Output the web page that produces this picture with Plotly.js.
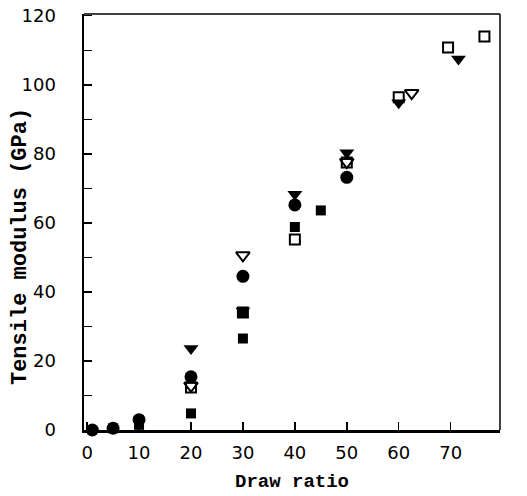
<!DOCTYPE html>
<html><head><meta charset="utf-8">
<script src="https://cdn.plot.ly/plotly-3.0.1.min.js"></script>
<style>body{margin:0;background:#fff}#c{width:527px;height:496px}</style>
</head><body><div id="c"></div>
<script>
// Draw ratio (x) vs tensile modulus in GPa (y), five sample series
const circleFilledX = [1, 5, 10, 20, 30, 40, 50];
const circleFilledY = [0, 0.5, 3, 15.4, 44.5, 65.2, 73.2];
const squareFilledX = [5, 10, 20, 30, 30, 40, 45];
const squareFilledY = [0.5, 1.5, 4.8, 26.5, 34, 58.8, 63.6];
const squareOpenX = [20, 30, 40, 50, 60, 69.5, 76.5];
const squareOpenY = [12.3, 34, 55.2, 77.5, 96.4, 110.8, 114];
const triFilledX = [20, 30, 40, 50, 60, 71.5];
const triFilledY = [23.6, 34.5, 68.3, 80.3, 94.8, 107.5];
const triOpenX = [20, 30, 50, 62.5];
const triOpenY = [12.8, 50.6, 77.6, 97.6];
const xTicks = [0, 10, 20, 30, 40, 50, 60, 70, 80];
const yTicks = [0, 20, 40, 60, 80, 100, 120];
const xTitle = 'Draw ratio';
const yTitle = 'Tensile modulus (GPa)';

const common = {type: 'scatter', mode: 'markers', cliponaxis: false, showlegend: false};
const data = [
  Object.assign({}, common, {x: squareOpenX, y: squareOpenY,
    marker: {symbol: 'square-open', size: 10, color: '#000', line: {width: 2, color: '#000'}}}),
  Object.assign({}, common, {x: triOpenX, y: triOpenY,
    marker: {symbol: 'triangle-down-open', size: 12, color: '#000', line: {width: 2, color: '#000'}}}),
  Object.assign({}, common, {x: squareFilledX, y: squareFilledY,
    marker: {symbol: 'square', size: 10, color: '#000'}}),
  Object.assign({}, common, {x: triFilledX, y: triFilledY,
    marker: {symbol: 'triangle-down', size: 13, color: '#000'}}),
  Object.assign({}, common, {x: circleFilledX, y: circleFilledY,
    marker: {symbol: 'circle', size: 13, color: '#000'}})
];

const tickFont = {family: 'DejaVu Sans, Verdana, sans-serif', size: 18, color: '#000'};
const titleFont = {family: 'Liberation Mono, Courier New, monospace', size: 19, color: '#000', weight: 'bold'};
const yTitleFont = {family: 'Liberation Mono, Courier New, monospace', size: 22, color: '#000', weight: 'bold'};

const layout = {
  width: 527, height: 496,
  margin: {l: 84, r: 27, t: 14, b: 66},
  paper_bgcolor: '#fff', plot_bgcolor: '#fff',
  xaxis: {
    range: [-0.6, 79.5], tickvals: xTicks, ticktext: xTicks.map(String),
    ticks: 'inside', ticklen: 8, tickwidth: 1.5, tickcolor: '#000',
    showline: true, linewidth: 2.5, linecolor: '#000', showgrid: false, zeroline: false,
    tickfont: tickFont, ticklabelstandoff: 5,
    title: {text: xTitle, font: titleFont, standoff: 12}
  },
  yaxis: {
    range: [0, 120.5], tickvals: yTicks, ticktext: yTicks.map(String),
    ticks: 'inside', ticklen: 8, tickwidth: 1.5, tickcolor: '#000',
    minor: {dtick: 10, ticks: 'inside', ticklen: 8, tickwidth: 1.5, tickcolor: '#000', showgrid: false},
    showline: true, linewidth: 2.5, linecolor: '#000', showgrid: false, zeroline: false,
    tickfont: tickFont, ticklabelstandoff: 22
  },
  annotations: [
    {text: yTitle, font: yTitleFont, textangle: -90, showarrow: false,
     xref: 'paper', yref: 'paper', x: -0.154, y: 0.442, xanchor: 'center', yanchor: 'middle'}
  ],
  shapes: [
    {type: 'line', xref: 'paper', yref: 'paper', x0: 0, x1: 1, y0: 1, y1: 1, line: {color: '#000', width: 1.5}},
    {type: 'line', xref: 'paper', yref: 'paper', x0: 1, x1: 1, y0: 0, y1: 1, line: {color: '#000', width: 1.5}}
  ]
};

Plotly.newPlot('c', data, layout, {displayModeBar: false, staticPlot: true});
</script>
</body></html>
